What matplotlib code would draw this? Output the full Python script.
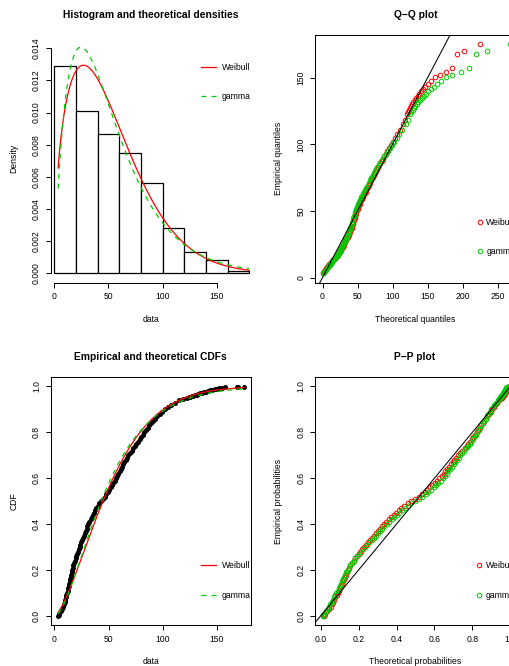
import math
import numpy as np
import matplotlib.pyplot as plt
from matplotlib.lines import Line2D

# ===============================
# data
# ===============================
hist_breaks = [0, 20, 40, 60, 80, 100, 120, 140, 160, 180]
hist_density = [0.0129, 0.0101, 0.00865, 0.0075, 0.00565, 0.0028, 0.0013, 0.00085, 0.00015]

# empirical quantiles of the sample (sorted data) at their plotting positions
emp_prob = [0.0005, 0.005, 0.01, 0.02, 0.03, 0.04, 0.05, 0.06, 0.07, 0.08, 0.09,
            0.10, 0.11, 0.12, 0.13, 0.14, 0.15, 0.16, 0.17, 0.18, 0.19,
            0.20, 0.21, 0.22, 0.23, 0.24, 0.25, 0.26, 0.27, 0.28, 0.29,
            0.30, 0.31, 0.32, 0.33, 0.34, 0.35, 0.36, 0.37, 0.38, 0.39,
            0.40, 0.41, 0.42, 0.43, 0.44, 0.45, 0.46, 0.47, 0.48, 0.49,
            0.50, 0.51, 0.52, 0.53, 0.54, 0.55, 0.56, 0.57, 0.58, 0.59,
            0.60, 0.61, 0.62, 0.63, 0.64, 0.65, 0.66, 0.67, 0.68, 0.69,
            0.70, 0.71, 0.72, 0.73, 0.74, 0.75, 0.76, 0.77, 0.78, 0.79,
            0.80, 0.81, 0.82, 0.83, 0.84, 0.85, 0.86, 0.87, 0.88, 0.89,
            0.90, 0.91, 0.92, 0.93, 0.94, 0.945, 0.95, 0.9525, 0.955, 0.9575,
            0.96, 0.9625, 0.965, 0.9675, 0.97, 0.9725, 0.975, 0.9775, 0.98,
            0.9825, 0.985, 0.9875, 0.99, 0.9925, 0.995, 0.9965, 0.9975,
            0.9985, 0.9995]
emp_quant = [3.5, 4.0, 4.6, 6.0, 7.3, 8.2, 8.8, 9.4, 10.0, 10.5, 11.1,
             11.7, 12.3, 12.8, 13.2, 13.7, 14.1, 14.6, 15.0, 15.5, 15.9,
             16.4, 16.8, 17.4, 18.1, 18.8, 19.5, 20.2, 20.9, 21.6, 22.4,
             23.2, 24.0, 24.8, 25.6, 26.4, 27.2, 28.0, 28.8, 29.6, 30.4,
             31.3, 32.3, 33.3, 34.3, 35.3, 36.3, 37.4, 38.6, 39.9, 41.3,
             43.0, 44.8, 46.3, 47.8, 49.2, 50.5, 51.8, 53.1, 54.4, 55.6,
             56.8, 58.0, 59.1, 60.2, 61.3, 62.4, 63.5, 64.6, 65.7, 66.9,
             68.2, 69.6, 71.2, 72.9, 74.4, 75.8, 77.2, 78.6, 80.0, 81.5,
             83.0, 84.5, 86.1, 87.7, 89.4, 91.2, 93.1, 95.1, 97.2, 99.5,
             102.0, 104.8, 107.8, 111.0, 115.5, 118.5, 122.5, 124.0, 125.5, 127.0,
             128.5, 130.0, 131.5, 133.0, 134.5, 136.5, 138.0, 140.0, 142.0,
             143.5, 145.5, 148.0, 150.5, 152.5, 154.5, 157.3, 168.3,
             170.0, 175.3]

# fitted distributions
weib_shape = 1.485
weib_scale = 57.4
gamma_shape = 1.9
gamma_rate = 0.0366

fit_names = ["Weibull", "gamma"]
fit_colors = ["#FF0000", "#00CD00"]

# ===============================
# distribution helpers
# ===============================
def weib_pdf(x):
    z = x / weib_scale
    return weib_shape / weib_scale * z ** (weib_shape - 1) * np.exp(-z ** weib_shape)

def weib_cdf(x):
    return 1 - np.exp(-(x / weib_scale) ** weib_shape)

def weib_ppf(p):
    return weib_scale * (-np.log(1 - p)) ** (1 / weib_shape)

def gamma_pdf(x):
    return (gamma_rate ** gamma_shape * x ** (gamma_shape - 1)
            * np.exp(-gamma_rate * x) / math.gamma(gamma_shape))

grid = np.linspace(0, 600, 120001)
gpdf = gamma_pdf(grid)
gcdf = np.concatenate([[0], np.cumsum((gpdf[1:] + gpdf[:-1]) / 2 * np.diff(grid))])

def gamma_cdf(x):
    return np.interp(x, grid, gcdf)

def gamma_ppf(p):
    return np.interp(p, gcdf, grid)

p = np.array(emp_prob)
q = np.array(emp_quant)

# ===============================
# figure
# ===============================
plt.rcParams['font.family'] = ['Liberation Sans', 'DejaVu Sans']
W, H = 509, 666
fig = plt.figure(figsize=(W / 100, H / 100), dpi=100)

def box(left, top, width, height):
    return fig.add_axes([left / W, (H - top - height) / H, width / W, height / H])

ax1 = box(50.6, 35, 200.4, 247.7)
ax2 = box(315.3, 35, 200, 247.7)
ax3 = box(50.7, 377.3, 200, 247.7)
ax4 = box(315.0, 377.3, 200, 247.7)

FS = 6.2
for ax in (ax1, ax2, ax3, ax4):
    ax.tick_params(length=3.4, width=0.7, labelsize=FS, pad=3.6, color="black")
    for s in ax.spines.values():
        s.set_linewidth(0.75)

def labels(ax, title, xl, yl, w, h):
    ax.set_title(title, fontsize=7.4, fontweight="bold", pad=12.3)
    ax.set_xlabel(xl, fontsize=FS, va="center")
    ax.set_ylabel(yl, fontsize=FS, va="center")
    ax.xaxis.set_label_coords(0.5, -36.6 / h)
    ax.yaxis.set_label_coords(-36.5 / w, 0.5)

# 1. histogram + densities
ax1.bar(hist_breaks[:-1], hist_density, width=np.diff(hist_breaks), align="edge",
        facecolor="white", edgecolor="black", linewidth=0.9)
xs = np.linspace(emp_quant[0], hist_breaks[-1], 400)
ax1.plot(xs, weib_pdf(xs), color=fit_colors[0], lw=0.9)
ax1.plot(xs, gamma_pdf(xs), color=fit_colors[1], lw=0.9, ls=(0, (4, 4)))
ax1.set_xlim(-3.4, 181.7)
ax1.set_ylim(-0.000585, 0.01483)
ax1.set_xticks([0, 50, 100, 150])
yt = [0, 0.002, 0.004, 0.006, 0.008, 0.010, 0.012, 0.014]
ax1.set_yticks(yt)
ax1.set_yticklabels([f"{v:.3f}" for v in yt], rotation=90, va="center")
ax1.spines["top"].set_visible(False)
ax1.spines["right"].set_visible(False)
ax1.spines["left"].set_bounds(0, 0.014)
ax1.spines["bottom"].set_bounds(0, 150)
labels(ax1, "Histogram and theoretical densities", "data", "Density", 200.4, 247.7)
line_handles = [Line2D([], [], color=fit_colors[0], lw=0.9),
                Line2D([], [], color=fit_colors[1], lw=0.9, ls=(0, (4, 4)))]
ax1.legend(line_handles, fit_names, loc="center right", bbox_to_anchor=(1.0, 0.81),
           frameon=False, fontsize=FS, handlelength=1.75, handletextpad=0.7,
           labelspacing=2.4, borderpad=0, borderaxespad=0)

# 2. Q-Q plot
mk = dict(marker="o", ls="none", mfc="none", ms=3.3, mew=0.7)
ax2.plot(weib_ppf(p), q, mec=fit_colors[0], **mk)
ax2.plot(gamma_ppf(p), q, mec=fit_colors[1], **mk)
ax2.axline((0, 0), slope=1, color="black", lw=0.75)
ax2.set_xlim(-10.3, 275.4)
ax2.set_ylim(-3.9, 182.2)
ax2.set_xticks([0, 50, 100, 150, 200, 250])
ax2.set_yticks([0, 50, 100, 150])
ax2.set_yticklabels(["0", "50", "100", "150"], rotation=90, va="center")
labels(ax2, "Q\u2212Q plot", "Theoretical quantiles", "Empirical quantiles", 200, 247.7)
pt_handles = [Line2D([], [], mec=c, **mk) for c in fit_colors]
ax2.legend(pt_handles, fit_names, loc="center right", bbox_to_anchor=(1.0, 0.185),
           frameon=False, fontsize=FS, handlelength=0.8, handletextpad=0.4,
           labelspacing=2.4, borderpad=0, borderaxespad=0)

# 3. CDFs
ax3.plot(q, p, "o", color="black", ms=3.6, mew=0)
xc = np.linspace(emp_quant[0], emp_quant[-1], 400)
ax3.plot(xc, weib_cdf(xc), color=fit_colors[0], lw=0.9)
ax3.plot(xc, gamma_cdf(xc), color=fit_colors[1], lw=0.9, ls=(0, (4, 4)))
ax3.set_xlim(-3.5, 181.4)
ax3.set_ylim(-0.04, 1.04)
ax3.set_xticks([0, 50, 100, 150])
pt = ["0.0", "0.2", "0.4", "0.6", "0.8", "1.0"]
ax3.set_yticks([0, 0.2, 0.4, 0.6, 0.8, 1.0])
ax3.set_yticklabels(pt, rotation=90, va="center")
labels(ax3, "Empirical and theoretical CDFs", "data", "CDF", 200, 247.7)
ax3.legend(line_handles, fit_names, loc="center right", bbox_to_anchor=(1.0, 0.18),
           frameon=False, fontsize=FS, handlelength=1.75, handletextpad=0.7,
           labelspacing=2.4, borderpad=0, borderaxespad=0)

# 4. P-P plot
ax4.plot(weib_cdf(q), p, mec=fit_colors[0], **mk)
ax4.plot(gamma_cdf(q), p, mec=fit_colors[1], **mk)
ax4.axline((0, 0), slope=1, color="black", lw=0.75)
ax4.set_xlim(-0.030, 1.025)
ax4.set_ylim(-0.04, 1.04)
ax4.set_xticks([0, 0.2, 0.4, 0.6, 0.8, 1.0])
ax4.set_xticklabels(pt)
ax4.set_yticks([0, 0.2, 0.4, 0.6, 0.8, 1.0])
ax4.set_yticklabels(pt, rotation=90, va="center")
labels(ax4, "P\u2212P plot", "Theoretical probabilities", "Empirical probabilities", 200, 247.7)
ax4.legend(pt_handles, fit_names, loc="center right", bbox_to_anchor=(1.0, 0.18),
           frameon=False, fontsize=FS, handlelength=0.8, handletextpad=0.4,
           labelspacing=2.4, borderpad=0, borderaxespad=0)

fig.savefig("out.png", dpi=100)
